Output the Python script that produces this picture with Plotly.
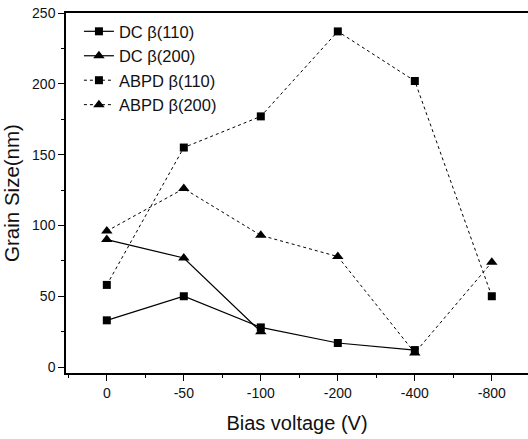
import plotly.graph_objects as go

categories = ["0", "-50", "-100", "-200", "-400", "-800"]
dc_110 = [33, 50, 28, 17, 12, None]
dc_200 = [90, 77, 25, None, None, None]
abpd_110 = [58, 155, 177, 237, 202, 50]
abpd_200 = [96, 126, 93, 78, 10, 74]

xpos = list(range(len(categories)))

FONT = "Liberation Sans, Arial, sans-serif"

fig = go.Figure()

def add(name, ys, symbol, dash, msize):
    fig.add_trace(go.Scatter(
        x=xpos, y=ys, name=name, mode="lines+markers",
        line=dict(color="black", width=1.2 if dash == "solid" else 1, dash=dash),
        marker=dict(symbol=symbol, size=msize, color="black"),
        connectgaps=False,
    ))

add("DC β(110)", dc_110, "square", "solid", 8)
add("DC β(200)", dc_200, "triangle-up", "solid", 10)
add("ABPD β(110)", abpd_110, "square", "dot", 8)
add("ABPD β(200)", abpd_200, "triangle-up", "dot", 10)

fig.update_layout(
    width=528, height=439,
    margin=dict(l=66, r=0, t=13, b=66, autoexpand=False),
    paper_bgcolor="white", plot_bgcolor="white",
    font=dict(family=FONT, size=14, color="#111"),
    showlegend=True,
    legend=dict(x=0.028, y=0.997, xanchor="left", yanchor="top",
                bgcolor="rgba(0,0,0,0)", borderwidth=0,
                font=dict(size=16.5, family=FONT, color="#111"),
                tracegroupgap=0, itemwidth=30),
    xaxis=dict(
        automargin=False,
        range=[-0.53, 5.47], tickmode="array", tickvals=xpos, ticktext=categories,
        showline=True, linecolor="black", linewidth=1.5, mirror=True,
        ticks="outside", ticklen=6, tickwidth=1.2, tickcolor="black",
        minor=dict(tickmode="linear", tick0=-0.5, dtick=1, ticks="outside",
                   ticklen=3, tickcolor="black", tickwidth=1),
        showgrid=False, zeroline=False,
        title=dict(text="Bias voltage (V)", font=dict(size=20, family=FONT), standoff=16),
        tickfont=dict(size=14),
    ),
    yaxis=dict(
        automargin=False,
        range=[-4.2, 250], tickmode="linear", tick0=0, dtick=50,
        showline=True, linecolor="black", linewidth=1.5, mirror=False,
        ticks="outside", ticklen=6, tickwidth=1.2, tickcolor="black",
        minor=dict(tickmode="linear", tick0=25, dtick=50, ticks="outside",
                   ticklen=3, tickcolor="black", tickwidth=1),
        showgrid=False, zeroline=False,
        title=dict(text="Grain Size(nm)", font=dict(size=20.5, family=FONT), standoff=10),
        tickfont=dict(size=14),
    ),
)

fig.write_html("out.html", config={"displayModeBar": False},
               post_script="document.body.style.margin='0';")
